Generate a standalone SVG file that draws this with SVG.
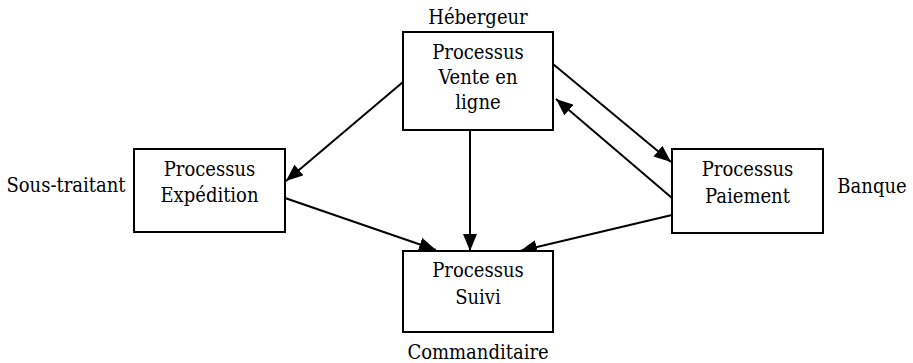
<svg xmlns="http://www.w3.org/2000/svg" width="913" height="363" viewBox="0 0 913 363">
<style>
.box{fill:#fff;stroke:#000;stroke-width:2}
.t{font-family:'DejaVu Serif Condensed','DejaVu Serif','Liberation Serif',serif;font-stretch:condensed;font-size:20px;fill:#000;text-anchor:middle}
.c line{stroke:#000;stroke-width:2;marker-end:url(#ah)}
</style>
<defs>
<marker id="ah" markerUnits="userSpaceOnUse" markerWidth="18" markerHeight="14" refX="17" refY="7" orient="auto">
<path d="M0,0 L17,7 L0,14 Z" fill="#000"/>
</marker>
</defs>
<rect width="913" height="363" fill="#fff"/>
<g class="c" id="connectors">
<line x1="403" y1="82" x2="286" y2="181"/>
<line x1="553" y1="64" x2="671" y2="162"/>
<line x1="672" y1="198" x2="556" y2="99"/>
<line x1="470" y1="130" x2="470" y2="251"/>
<line x1="285" y1="198" x2="436" y2="250"/>
<line x1="672" y1="215" x2="520" y2="251"/>
</g>
<g id="vente" class="t">
<rect class="box" x="403" y="32" width="150" height="98"/>
<text x="478" y="59">Processus</text>
<text x="478" y="84">Vente en</text>
<text x="478" y="109">ligne</text>
<text x="478" y="24">Hébergeur</text>
</g>
<g id="expedition" class="t">
<rect class="box" x="134" y="149" width="151" height="83"/>
<text x="209.5" y="176">Processus</text>
<text x="209.5" y="202">Expédition</text>
<text x="66" y="192">Sous-traitant</text>
</g>
<g id="paiement" class="t">
<rect class="box" x="672" y="149" width="151" height="84"/>
<text x="747.5" y="176">Processus</text>
<text x="747.5" y="203">Paiement</text>
<text x="872" y="193">Banque</text>
</g>
<g id="suivi" class="t">
<rect class="box" x="403" y="251" width="150" height="81"/>
<text x="478" y="277">Processus</text>
<text x="478" y="304">Suivi</text>
<text x="478" y="359">Commanditaire</text>
</g>
</svg>
